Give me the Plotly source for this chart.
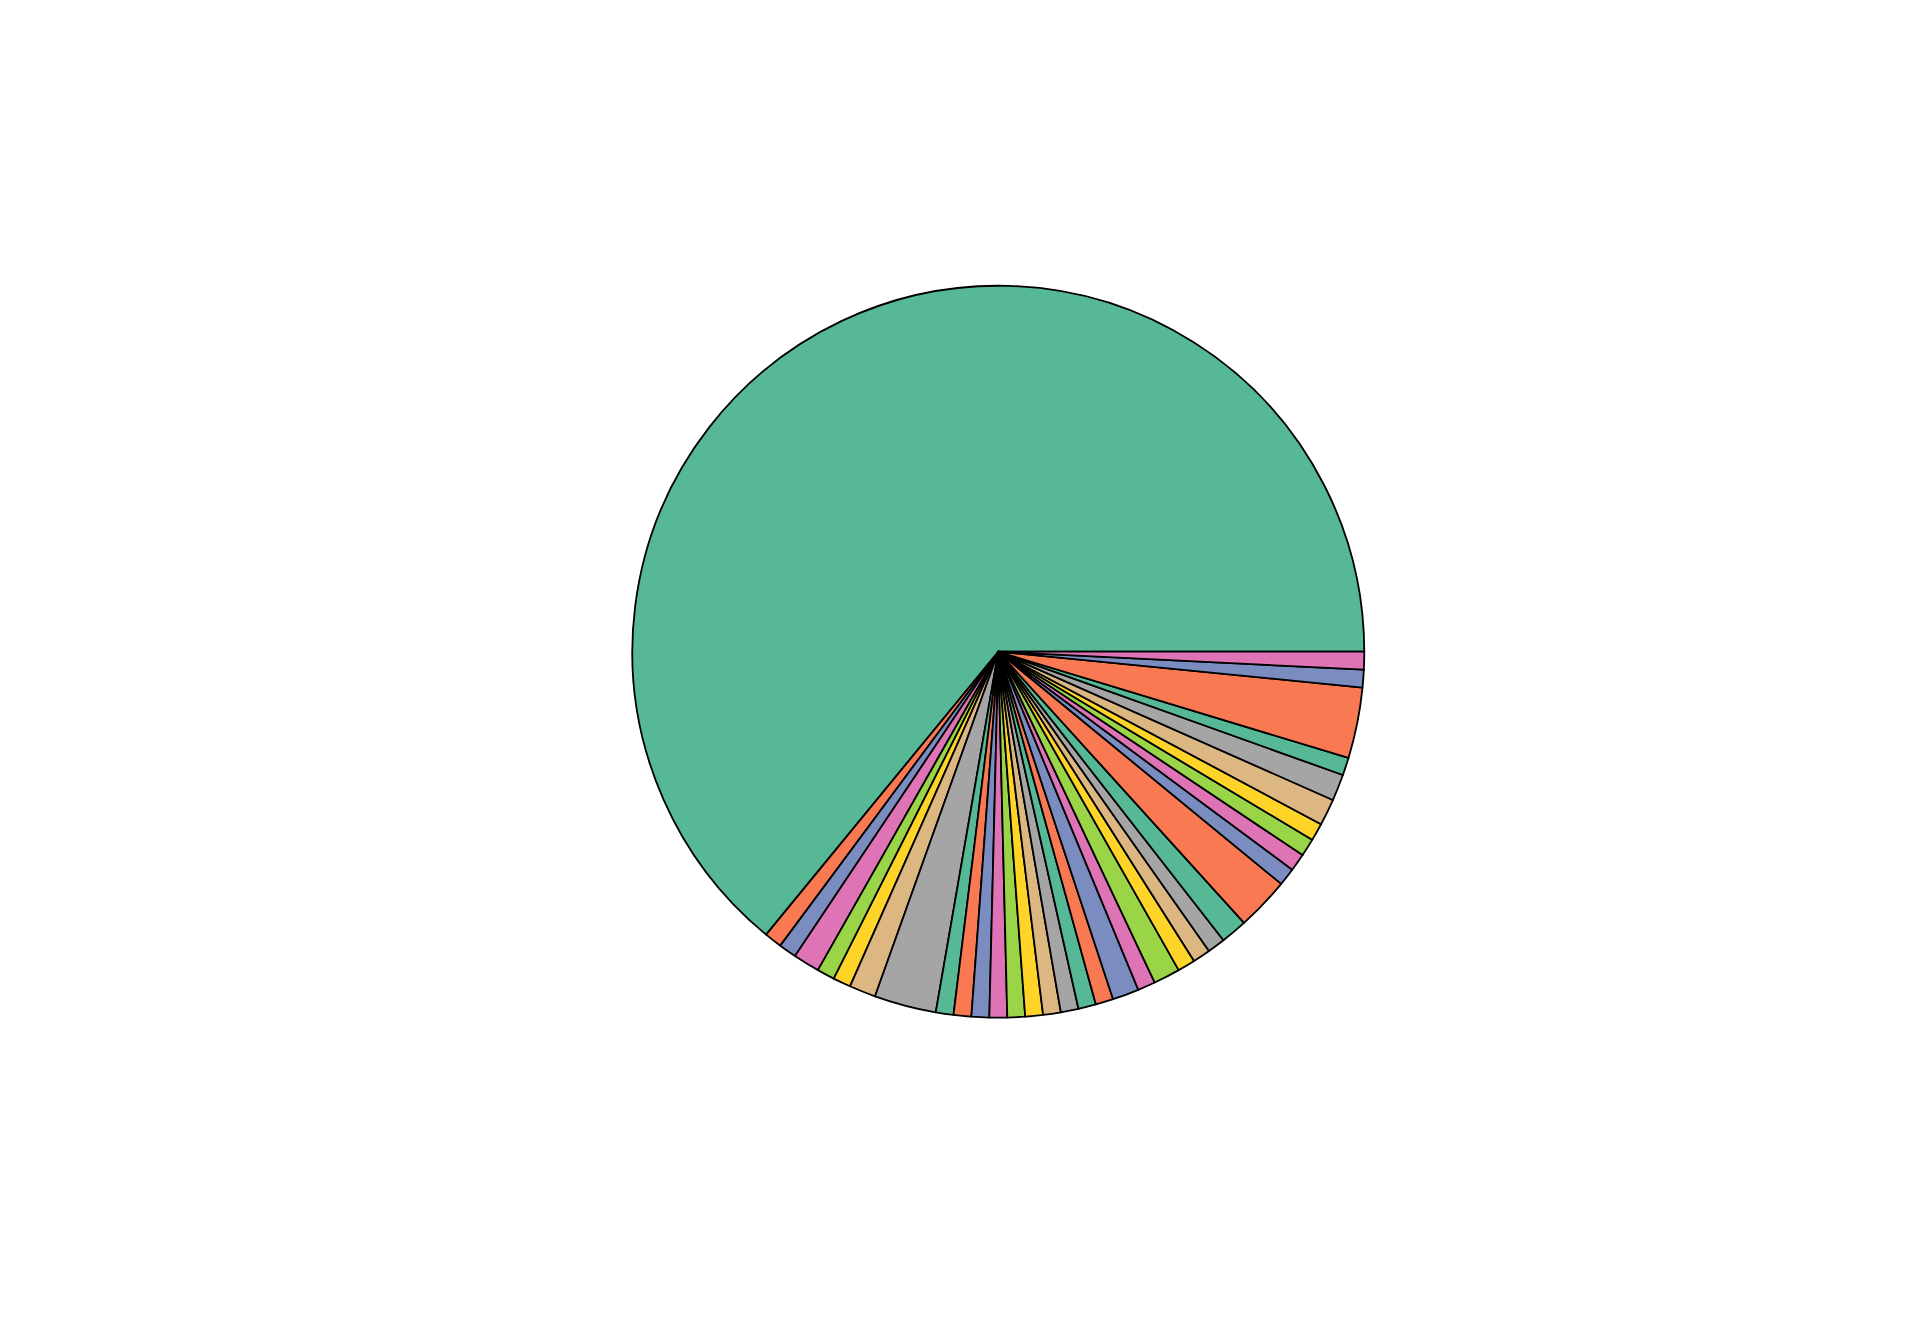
import plotly.graph_objects as go

labels = [f"Item {i+1}" for i in range(36)]
values = [164, 2, 2, 3, 2, 2, 3, 7, 2, 2, 2, 2, 2, 2, 2, 2, 2, 2, 3, 2,
          3, 2, 2, 2, 3, 6, 2, 2, 2, 2, 3, 3, 2, 8, 2, 2]
palette = ["#56b894", "#f97a52", "#7b8dc0", "#de73b5",
           "#9ad447", "#fed428", "#ddb782", "#a5a5a5"]
colors = [palette[i % len(palette)] for i in range(len(values))]

# first slice starts at 3 o'clock and runs counterclockwise
rot = 90 - 360 * values[0] / sum(values)

fig = go.Figure(go.Pie(
    labels=labels,
    values=values,
    sort=False,
    direction="counterclockwise",
    rotation=rot,
    textinfo="none",
    marker=dict(colors=colors, line=dict(color="black", width=1.8)),
    domain=dict(x=[0.3293, 0.7106], y=[0.2428, 0.7874]),
))
fig.update_layout(
    width=1920, height=1344,
    margin=dict(l=0, r=0, t=0, b=0),
    showlegend=False,
    paper_bgcolor="white",
    plot_bgcolor="white",
)
fig.write_html("out.html")
